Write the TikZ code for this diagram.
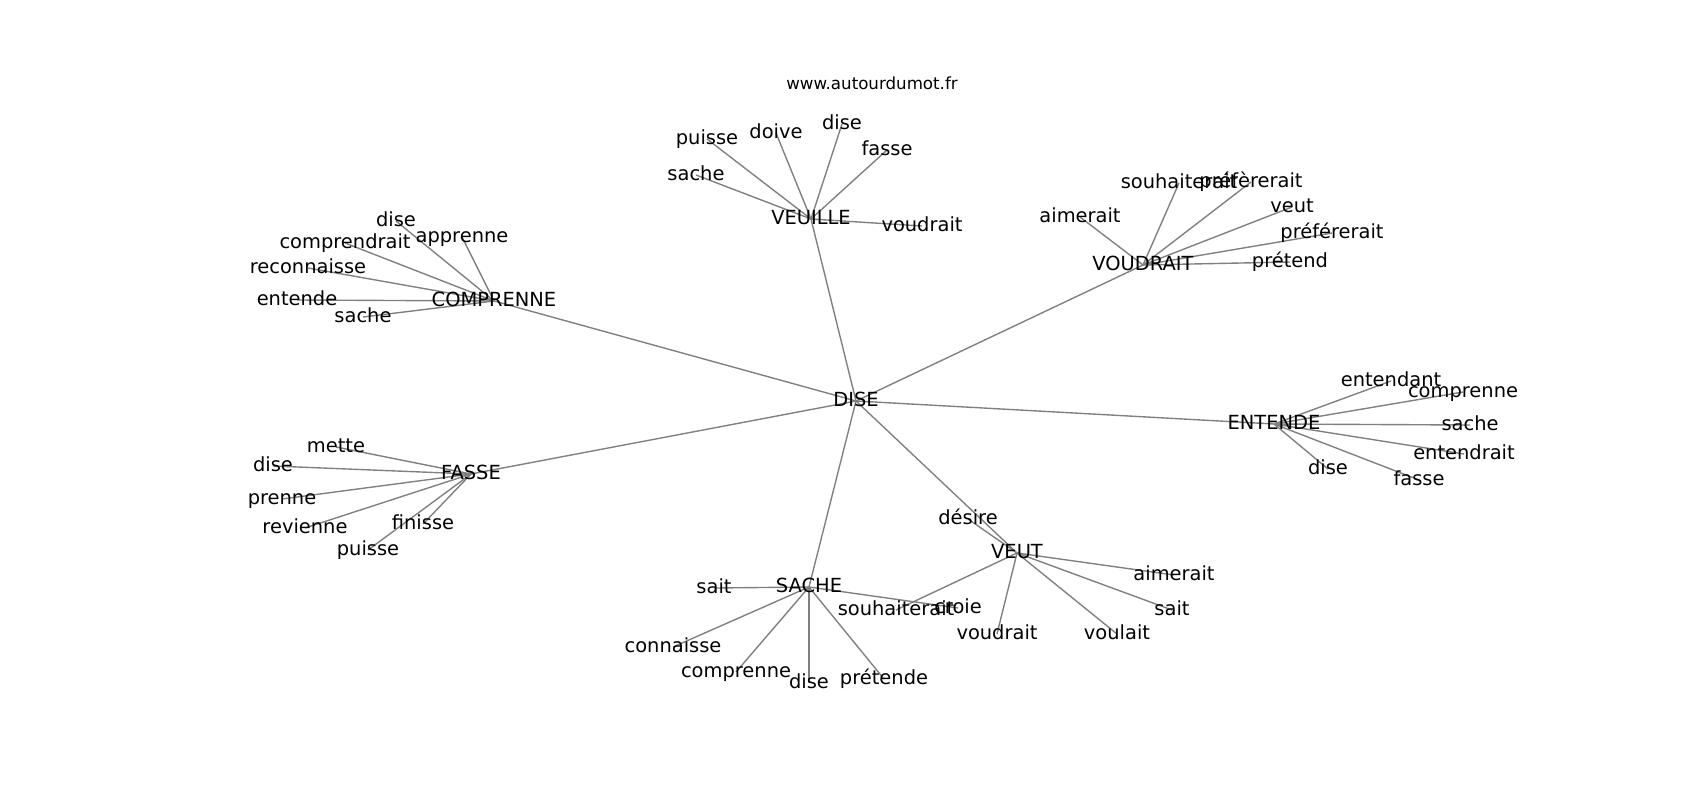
\documentclass[tikz,border=0pt]{standalone}
\usepackage{fontspec}
\setmainfont{DejaVu Sans}
\pgfdeclarelayer{bgl}
\pgfsetlayers{bgl,main}
\begin{document}
\begin{tikzpicture}[x=0.72pt,y=-0.72pt,
  lbl/.style={inner sep=0pt, text height=0.73em, text depth=0pt, font=\fontsize{14}{16}\selectfont},
  ttl/.style={inner sep=0pt, font=\fontsize{12}{14}\selectfont},
  link/.style={draw=gray, line width=1pt}]
\useasboundingbox (0,0) rectangle (1700,800);
\node[ttl] (title) at (872,83) {www.autourdumot.fr};
% hubs
\node[lbl] (dise) at (856,401) {DISE};
\node[lbl] (veuille) at (811,219) {VEUILLE};
\node[lbl] (comprenne) at (494,301) {COMPRENNE};
\node[lbl] (voudrait) at (1143,265) {VOUDRAIT};
\node[lbl] (entende) at (1274,424) {ENTENDE};
\node[lbl] (fasse) at (471,474) {FASSE};
\node[lbl] (sache) at (809,587) {SACHE};
\node[lbl] (veut) at (1017,553) {VEUT};
% VEUILLE leaves
\node[lbl] (v1) at (707,139) {puisse};
\node[lbl] (v2) at (776,133) {doive};
\node[lbl] (v3) at (842,124) {dise};
\node[lbl] (v4) at (887,150) {fasse};
\node[lbl] (v5) at (696,175) {sache};
\node[lbl] (v6) at (922,226) {voudrait};
% COMPRENNE leaves
\node[lbl] (c1) at (396,221) {dise};
\node[lbl] (c2) at (345,243) {comprendrait};
\node[lbl] (c3) at (462,237) {apprenne};
\node[lbl] (c4) at (308,268) {reconnaisse};
\node[lbl] (c5) at (297,300) {entende};
\node[lbl] (c6) at (363,317) {sache};
% VOUDRAIT leaves
\node[lbl] (w1) at (1179,183) {souhaiterait};
\node[lbl] (w2) at (1251,182) {préfèrerait};
\node[lbl] (w3) at (1292,207) {veut};
\node[lbl] (w4) at (1080,217) {aimerait};
\node[lbl] (w5) at (1332,233) {préférerait};
\node[lbl] (w6) at (1290,262) {prétend};
% ENTENDE leaves
\node[lbl] (e1) at (1391,381) {entendant};
\node[lbl] (e2) at (1463,392) {comprenne};
\node[lbl] (e3) at (1470,425) {sache};
\node[lbl] (e4) at (1464,454) {entendrait};
\node[lbl] (e5) at (1328,469) {dise};
\node[lbl] (e6) at (1419,480) {fasse};
% FASSE leaves
\node[lbl] (f1) at (336,447) {mette};
\node[lbl] (f2) at (273,466) {dise};
\node[lbl] (f3) at (282,499) {prenne};
\node[lbl] (f4) at (305,528) {revienne};
\node[lbl] (f5) at (423,524) {finisse};
\node[lbl] (f6) at (368,550) {puisse};
% SACHE leaves
\node[lbl] (s1) at (714,588) {sait};
\node[lbl] (s2) at (673,647) {connaisse};
\node[lbl] (s3) at (736,672) {comprenne};
\node[lbl] (s4) at (809,683) {dise};
\node[lbl] (s5) at (884,679) {prétende};
\node[lbl] (s6) at (958,608) {croie};
% VEUT leaves
\node[lbl] (u1) at (968,519) {désire};
\node[lbl] (u2) at (1174,575) {aimerait};
\node[lbl] (u3) at (1172,610) {sait};
\node[lbl] (u4) at (1117,634) {voulait};
\node[lbl] (u5) at (997,634) {voudrait};
\node[lbl] (u6) at (896,610) {souhaiterait};
\begin{pgfonlayer}{bgl}
\foreach \h in {veuille,comprenne,voudrait,entende,fasse,sache,veut}
  \path[link] (dise.center) -- (\h.center);
\foreach \i in {1,...,6}{
  \path[link] (veuille.center) -- (v\i.center);
  \path[link] (comprenne.center) -- (c\i.center);
  \path[link] (voudrait.center) -- (w\i.center);
  \path[link] (entende.center) -- (e\i.center);
  \path[link] (fasse.center) -- (f\i.center);
  \path[link] (sache.center) -- (s\i.center);
  \path[link] (veut.center) -- (u\i.center);
}
\end{pgfonlayer}
\end{tikzpicture}
\end{document}
